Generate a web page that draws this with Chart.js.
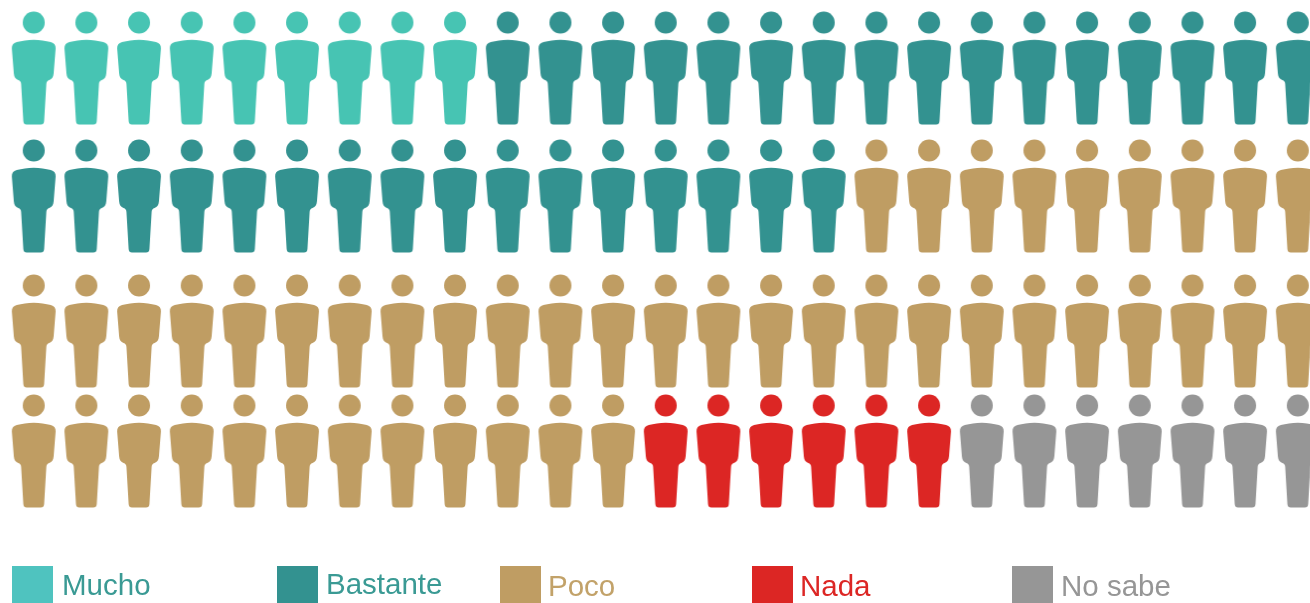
<!DOCTYPE html>
<html>
<head>
<meta charset="utf-8">
<style>
html,body{margin:0;padding:0;background:#fff;overflow:hidden}
#wrap{position:relative;width:1310px;height:603px}
canvas#c{position:absolute;left:0;top:0}
.sw{position:absolute;top:566px;width:41px;height:37px}
.lb{position:absolute;font:29.5px "Liberation Sans",Arial,sans-serif;line-height:36px;white-space:nowrap}
</style>
</head>
<body>
<div id="wrap"><canvas id="c" width="1310" height="603"></canvas><div id="legend"></div></div>
<script src="https://cdn.jsdelivr.net/npm/chart.js@4/dist/chart.umd.min.js"></script>
<script>
const categories = ["Mucho", "Bastante", "Poco", "Nada", "No sabe"];
const counts = [9, 32, 46, 6, 7];
const personsPerRow = 25;
const rowLevels = [0.567, 1.633, 2.758, 3.758];

const markColors = ["#47c4b3", "#339290", "#bf9d63", "#dc2624", "#969696"];
const swatchColors = ["#4fc3bf", "#339290", "#bf9d63", "#dc2624", "#969696"];
const textColors = ["#3a9a94", "#3a9a94", "#c2a269", "#dc2624", "#969696"];
const swatchLeft = [12, 277, 500, 752, 1012];
const labelLeft = [62, 326, 548, 800, 1061];
const labelTop = [567, 566, 568, 568, 568];

function personIcon(color) {
  const w = 46, h = 114, c = document.createElement("canvas");
  c.width = w; c.height = h;
  const g = c.getContext("2d");
  g.translate(w / 2, 0.5);
  g.fillStyle = color;
  g.beginPath(); g.arc(0, 11, 11, 0, Math.PI * 2); g.fill();
  g.beginPath();
  g.moveTo(0, 28.2);
  g.bezierCurveTo(6, 28.2, 12, 29.2, 17, 30.6);
  g.quadraticCurveTo(22.2, 32, 21.9, 37);
  g.lineTo(19.9, 62);
  g.quadraticCurveTo(19.5, 67.2, 15.5, 68.4);
  g.quadraticCurveTo(12.7, 69.2, 12.6, 72.5);
  g.lineTo(10.4, 109.5);
  g.quadraticCurveTo(10.2, 113, 7, 113);
  g.lineTo(-7, 113);
  g.quadraticCurveTo(-10.2, 113, -10.4, 109.5);
  g.lineTo(-12.6, 72.5);
  g.quadraticCurveTo(-12.7, 69.2, -15.5, 68.4);
  g.quadraticCurveTo(-19.5, 67.2, -19.9, 62);
  g.lineTo(-21.9, 37);
  g.quadraticCurveTo(-22.2, 32, -17, 30.6);
  g.bezierCurveTo(-12, 29.2, -6, 28.2, 0, 28.2);
  g.closePath(); g.fill();
  return c;
}

let seat = 0;
const datasets = categories.map((name, k) => {
  const data = [];
  for (let n = 0; n < counts[k]; n++, seat++) {
    data.push({ x: seat % personsPerRow, y: rowLevels[Math.floor(seat / personsPerRow)] });
  }
  return { label: name, data, pointStyle: personIcon(markColors[k]), pointRadius: 20, pointHoverRadius: 20, showLine: false, clip: false };
});

const chart = new Chart(document.getElementById("c"), {
  type: "scatter",
  data: { datasets },
  options: {
    responsive: false,
    animation: false,
    layout: { padding: 0, autoPadding: false },
    events: [],
    plugins: { legend: { display: false }, tooltip: { enabled: false } },
    scales: {
      x: { type: "linear", display: false, min: -33.7 / 52.67, max: (1310 - 33.7) / 52.67 },
      y: { type: "linear", display: false, reverse: true, min: 0, max: 603 / 120 }
    }
  }
});

const host = document.getElementById("legend");
chart.data.datasets.forEach((d, k) => {
  const s = document.createElement("div");
  s.className = "sw"; s.style.left = swatchLeft[k] + "px"; s.style.background = swatchColors[k];
  const t = document.createElement("div");
  t.className = "lb"; t.style.left = labelLeft[k] + "px"; t.style.top = labelTop[k] + "px"; t.style.color = textColors[k];
  t.textContent = d.label;
  host.append(s, t);
});
</script>
</body>
</html>
